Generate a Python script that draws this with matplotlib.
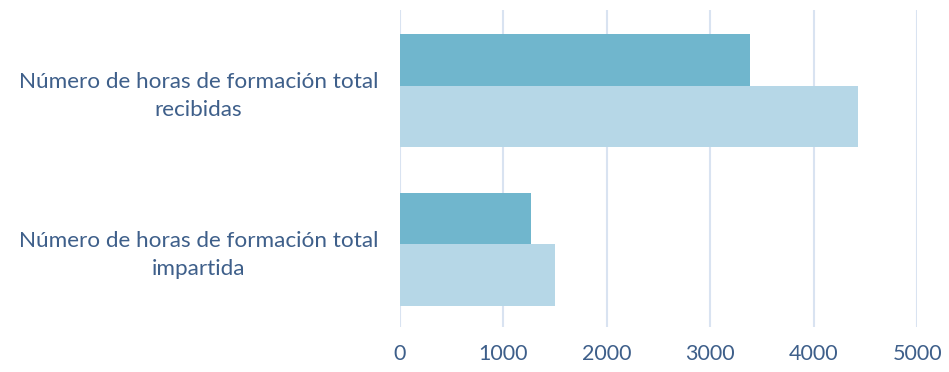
import numpy as np
import matplotlib
matplotlib.use("Agg")
import matplotlib.pyplot as plt

plt.rcParams['font.family'] = ['Lato', 'DejaVu Sans']

categories = ["Número de horas de formación total\nimpartida",
              "Número de horas de formación total\nrecibidas"]
serie_a = [1265, 3380]   # barra oscura
serie_b = [1500, 4430]   # barra clara
x_ticks = [0, 1000, 2000, 3000, 4000, 5000]

text_color = "#3E5F8A"
dark = "#70B6CD"
light = "#B6D7E7"
grid_color = "#D9E3F1"

fig = plt.figure(figsize=(9.49, 3.72), dpi=100)
ax = fig.add_axes([0.4215, 0.121, 0.545, 0.852])

y = np.arange(len(categories))
ax.barh(y + 0.03, serie_a, height=0.325, align='edge', color=dark, zorder=3)
ax.barh(y - 0.355, serie_b, height=0.385, align='edge', color=light, zorder=3)

ax.set_xlim(0, 5000)
ax.set_ylim(-0.49, 1.505)
ax.set_xticks(x_ticks)
ax.set_xticklabels([str(t) for t in x_ticks], fontsize=15.5, color=text_color)
ax.set_yticks(y)
ax.set_yticklabels(categories, fontsize=16.2, color=text_color,
                   ha='center', multialignment='center', linespacing=1.5)
ax.tick_params(axis='y', length=0, pad=145)
ax.tick_params(axis='x', length=0, pad=12)

ax.grid(axis='x', color=grid_color, linewidth=1.5, zorder=0)
for s in ax.spines.values():
    s.set_visible(False)

fig.savefig("out.png", dpi=100)
